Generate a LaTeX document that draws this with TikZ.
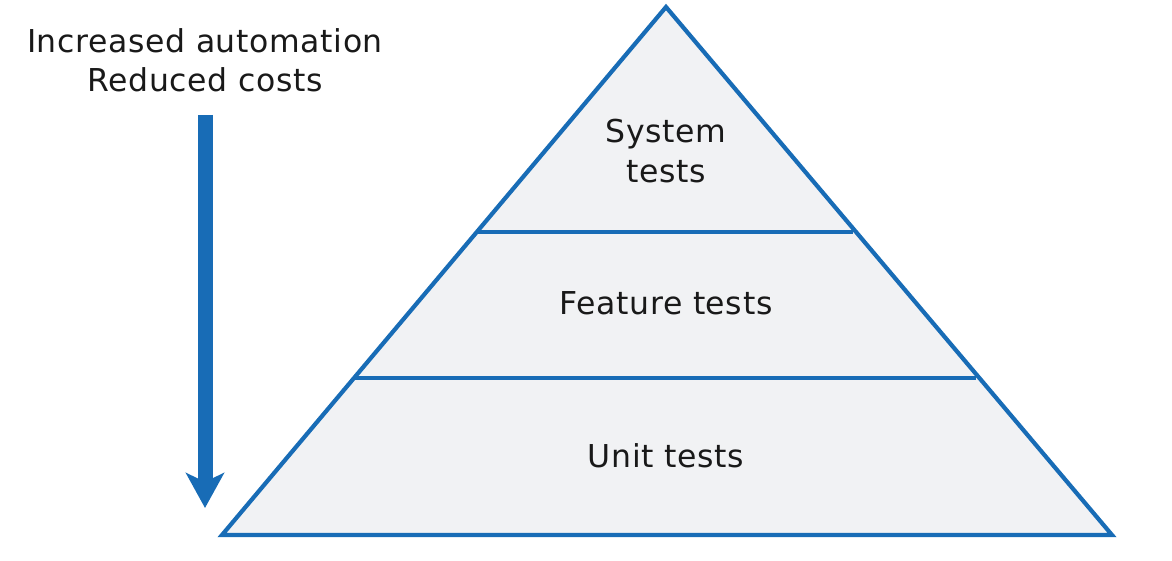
\documentclass[tikz,border=0pt]{standalone}
\usepackage{fontspec}
\setmainfont[LetterSpace=2]{DejaVu Sans}
\usetikzlibrary{arrows.meta}
\definecolor{pyrblue}{RGB}{24,108,182}
\definecolor{pyrfill}{RGB}{241,242,244}
\begin{document}
\begin{tikzpicture}[x=1pt,y=-1pt]
\tikzstyle{every node}=[inner sep=0pt, font=\fontsize{31.5}{38}\selectfont, text=black!90]
\useasboundingbox (0,0) rectangle (1172,561);
\coordinate (apex) at (666,7);
\coordinate (bl) at (222,535);
\coordinate (br) at (1112,535);
\coordinate (l1) at (477,232);
\coordinate (r1) at (853,232);
\coordinate (l2) at (354,378);
\coordinate (r2) at (976,378);
\fill[pyrfill] (apex) -- (bl) -- (br) -- cycle;
\draw[pyrblue, line width=4.2pt, line join=miter] (apex) -- (bl) -- (br) -- cycle;
\draw[pyrblue, line width=3.5pt] (l1) -- (r1);
\draw[pyrblue, line width=3.5pt] (l2) -- (r2);
\draw (666,143) node (sys) [anchor=base] {System};
\draw (666,183) node (sys2) [anchor=base] {tests};
\draw (666,314) node (feat) [anchor=base] {Feature tests};
\draw (666,467) node (unit) [anchor=base] {Unit tests};
\draw (205,53) node (auto) [anchor=base] {Increased automation};
\draw (205,92) node (cost) [anchor=base] {Reduced costs};
% arrow
\coordinate (atop) at (205,115);
\coordinate (atip) at (205,508);
\draw[pyrblue, line width=15pt, -{Stealth[width=38pt,length=35pt,inset=9pt]}] (atop) -- (atip);
\end{tikzpicture}
\end{document}
